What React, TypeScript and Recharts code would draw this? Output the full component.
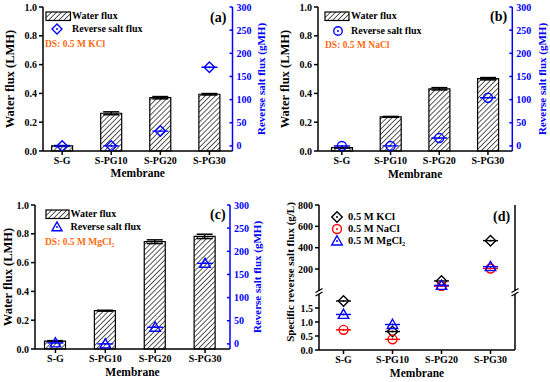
import React from 'react';
import { ComposedChart, Bar, Scatter, XAxis, YAxis, ErrorBar, Legend } from 'recharts';

const FONT = '"Liberation Serif", "Times New Roman", serif';
const BLUE = '#0000ff';
const RED = '#ff0000';
const ORANGE = '#ff6a13';

const membranes = ['S-G', 'S-PG10', 'S-PG20', 'S-PG30'];
const membraneX = [1, 2, 3, 4];

// (a) DS: 0.5 M KCl
const kclWaterFlux = [0.035, 0.262, 0.37, 0.394];
const kclWaterErr = [0.003, 0.01, 0.008, 0.005];
const kclSaltFlux = [0, 0, 32, 170];

// (b) DS: 0.5 M NaCl
const naclWaterFlux = [0.023, 0.237, 0.432, 0.502];
const naclWaterErr = [0.003, 0.003, 0.008, 0.008];
const naclSaltFlux = [0, 0, 17, 104];

// (c) DS: 0.5 M MgCl2
const mgcl2WaterFlux = [0.055, 0.266, 0.745, 0.782];
const mgcl2WaterErr = [0.003, 0.003, 0.013, 0.015];
const mgcl2SaltFlux = [2, 0, 36, 174];

// (d) specific reverse salt flux (g/L)
const kclSpecific = [1.75, 0.66, 88, 466];
const naclSpecific = [0.72, 0.38, 40, 205];
const mgcl2Specific = [1.27, 0.91, 46, 222];

const waterTicks = [0, 0.2, 0.4, 0.6, 0.8, 1.0];
const saltTicks = [0, 50, 100, 150, 200, 250, 300];
const specificHighTicks = [200, 400, 600, 800];
const specificLowTicks = [0, 0.5, 1.0, 1.5];

type MarkerKind = 'diamond' | 'circle' | 'triangle';

const tickStyle = { fontFamily: FONT, fontSize: 10, fontWeight: 700, fill: '#000' };
const blueTickStyle = { ...tickStyle, fill: BLUE };
const blackLine = { stroke: '#000', strokeWidth: 1.5 };
const blueLine = { stroke: BLUE, strokeWidth: 1.5 };

const titleStyle = (size: number, color = '#000') => ({
  fontFamily: FONT,
  fontSize: size,
  fontWeight: 700,
  fill: color,
  textAnchor: 'middle' as const,
});

const membraneLabel = (v: number) => membranes[Math.round(v) - 1] ?? '';

function markerBody(kind: MarkerKind, cx: number, cy: number, size: number, color: string) {
  const h = size / 2;
  if (kind === 'diamond') {
    return (
      <polygon
        points={`${cx},${cy - h} ${cx + h},${cy} ${cx},${cy + h} ${cx - h},${cy}`}
        fill="none"
        stroke={color}
        strokeWidth={1.4}
      />
    );
  }
  if (kind === 'circle') {
    return <circle cx={cx} cy={cy} r={h * 0.85} fill="none" stroke={color} strokeWidth={1.4} />;
  }
  return (
    <polygon
      points={`${cx},${cy - h} ${cx + h},${cy + h * 0.75} ${cx - h},${cy + h * 0.75}`}
      fill="none"
      stroke={color}
      strokeWidth={1.4}
    />
  );
}

function makeShape(kind: MarkerKind, color: string, size: number, cap: number) {
  return (props: any) => {
    const { cx, cy } = props;
    if (cx == null || cy == null) return <g />;
    return (
      <g>
        <line x1={cx - cap} x2={cx + cap} y1={cy} y2={cy} stroke={color} strokeWidth={1.4} />
        {markerBody(kind, cx, cy, size, color)}
        <circle cx={cx} cy={cy} r={1} fill={color} />
      </g>
    );
  };
}

function Glyph({ kind, color, x, y, size }: { kind: MarkerKind; color: string; x: number; y: number; size: number }) {
  return (
    <svg width={20} height={16} style={{ position: 'absolute', left: x - 10, top: y - 8, overflow: 'visible' }}>
      {markerBody(kind, 10, 8, size, color)}
      <circle cx={10} cy={8} r={1} fill={color} />
    </svg>
  );
}

function Label({ x, cy, size, color = '#000', children }: { x: number; cy: number; size: number; color?: string; children: React.ReactNode }) {
  return (
    <div
      style={{
        position: 'absolute',
        left: x,
        top: cy,
        transform: 'translateY(-50%)',
        fontFamily: FONT,
        fontWeight: 700,
        fontSize: size,
        lineHeight: 1,
        color,
        whiteSpace: 'nowrap',
      }}
    >
      {children}
    </div>
  );
}

interface FluxNotesProps {
  patternId: string;
  swatch: { x: number; y: number; w: number; h: number };
  textX: number;
  row1: number;
  marker: { kind: MarkerKind; x: number; y: number };
  tag: string;
  tagX: number;
  tagY: number;
  ds: React.ReactNode;
  dsX: number;
  dsY: number;
}

function FluxNotes(n: FluxNotesProps) {
  const lg = `${n.patternId}-lg`;
  return (
    <div style={{ position: 'relative', width: 275, height: 192 }}>
      <svg
        width={n.swatch.w}
        height={n.swatch.h}
        style={{ position: 'absolute', left: n.swatch.x, top: n.swatch.y, overflow: 'visible' }}
      >
        <defs>
          <pattern id={lg} patternUnits="userSpaceOnUse" width={3.6} height={3.6} patternTransform="rotate(45)">
            <rect width={3.6} height={3.6} fill="#fff" />
            <line x1={0} y1={0} x2={0} y2={3.6} stroke="#000" strokeWidth={1.3} />
          </pattern>
        </defs>
        <rect x={0} y={0} width={n.swatch.w} height={n.swatch.h} fill={`url(#${lg})`} stroke="#000" strokeWidth={1.2} />
      </svg>
      <Label x={n.textX} cy={n.row1} size={10}>Water flux</Label>
      <Glyph kind={n.marker.kind} color={BLUE} x={n.marker.x} y={n.marker.y} size={10} />
      <Label x={n.textX} cy={n.marker.y} size={10}>Reverse salt flux</Label>
      <Label x={n.tagX} cy={n.tagY} size={14}>{n.tag}</Label>
      <Label x={n.dsX} cy={n.dsY} size={9.5} color={ORANGE}>{n.ds}</Label>
    </div>
  );
}

interface FluxPanelProps {
  left: number;
  top: number;
  width: number;
  height: number;
  plotTop: number;
  leftW: number;
  rightW: number;
  bottomH: number;
  xDomain: [number, number];
  leftTitle: number;
  rightTitle: number;
  xTitle: number;
  water: number[];
  waterErr: number[];
  salt: number[];
  marker: MarkerKind;
  patternId: string;
  notes: Omit<FluxNotesProps, 'patternId'>;
}

function FluxPanel(p: FluxPanelProps) {
  const rows = membraneX.map((x, i) => ({ x, water: p.water[i], err: p.waterErr[i], salt: p.salt[i] }));
  return (
    <div style={{ position: 'absolute', left: p.left, top: p.top }}>
      <ComposedChart width={p.width} height={p.height} data={rows} margin={{ top: p.plotTop, right: 0, bottom: 0, left: 0 }}>
        <defs>
          <pattern id={p.patternId} patternUnits="userSpaceOnUse" width={3.6} height={3.6} patternTransform="rotate(45)">
            <rect width={3.6} height={3.6} fill="#fff" />
            <line x1={0} y1={0} x2={0} y2={3.6} stroke="#000" strokeWidth={1.3} />
          </pattern>
        </defs>
        <XAxis
          type="number"
          dataKey="x"
          domain={p.xDomain}
          ticks={membraneX}
          interval={0}
          tickFormatter={membraneLabel}
          allowDataOverflow
          height={p.bottomH}
          tick={tickStyle}
          tickSize={4}
          axisLine={blackLine}
          tickLine={blackLine}
          label={{ value: 'Membrane', position: 'insideBottom', offset: p.xTitle, style: titleStyle(11.5) }}
        />
        <XAxis
          xAxisId="top"
          orientation="top"
          type="number"
          dataKey="x"
          domain={p.xDomain}
          allowDataOverflow
          height={0}
          tick={false}
          tickLine={false}
          axisLine={blackLine}
        />
        <YAxis
          yAxisId="left"
          domain={[0, 1]}
          ticks={waterTicks}
          interval={0}
          tickFormatter={(v: number) => v.toFixed(1)}
          width={p.leftW}
          tick={tickStyle}
          tickSize={4}
          axisLine={blackLine}
          tickLine={blackLine}
          label={{ value: 'Water flux (LMH)', angle: -90, position: 'insideLeft', offset: p.leftTitle, style: titleStyle(12.5) }}
        />
        <YAxis
          yAxisId="right"
          orientation="right"
          domain={[-11, 300]}
          ticks={saltTicks}
          interval={0}
          allowDataOverflow
          width={p.rightW}
          tick={blueTickStyle}
          tickSize={-3}
          tickMargin={7}
          axisLine={blueLine}
          tickLine={blueLine}
          label={{ value: 'Reverse salt flux (gMH)', angle: -90, position: 'insideRight', offset: p.rightTitle, style: titleStyle(11, BLUE) }}
        />
        <Bar
          yAxisId="left"
          dataKey="water"
          barSize={21}
          fill={`url(#${p.patternId})`}
          stroke="#000"
          strokeWidth={1.2}
          isAnimationActive={false}
        >
          <ErrorBar dataKey="err" width={8} stroke="#000" strokeWidth={1.5} direction="y" />
        </Bar>
        <Scatter yAxisId="right" dataKey="salt" shape={makeShape(p.marker, BLUE, 10.5, 8)} isAnimationActive={false} />
        <Legend
          layout="horizontal"
          verticalAlign="middle"
          align="center"
          wrapperStyle={{ left: 0, top: 0, width: p.width, height: p.height, pointerEvents: 'none' }}
          content={() => <FluxNotes patternId={p.patternId} {...p.notes} />}
        />
      </ComposedChart>
    </div>
  );
}

function SpecificPanel() {
  const xDomain: [number, number] = [0.5, 4.5];
  const pick = (vals: number[], high: boolean) =>
    membraneX.map((x, i) => ({ x, v: vals[i] })).filter((r) => (high ? r.v > 2 : r.v <= 2));
  const series = [
    { name: '0.5 M KCl', vals: kclSpecific, kind: 'diamond' as MarkerKind, color: '#000' },
    { name: '0.5 M NaCl', vals: naclSpecific, kind: 'circle' as MarkerKind, color: RED },
    { name: '0.5 M MgCl\u2082', vals: mgcl2Specific, kind: 'triangle' as MarkerKind, color: BLUE },
  ];
  const legendRows = [26.7, 38.5, 50.7];
  return (
    <>
      <div style={{ position: 'absolute', left: 275, top: 190 }}>
        <ComposedChart width={275} height={192} margin={{ top: 104, right: 0, bottom: 0, left: 0 }}>
          <XAxis
            type="number"
            dataKey="x"
            domain={xDomain}
            ticks={membraneX}
            interval={0}
            tickFormatter={membraneLabel}
            allowDataOverflow
            height={32}
            tick={tickStyle}
            tickSize={4}
            axisLine={blackLine}
            tickLine={blackLine}
            label={{ value: 'Membrane', position: 'insideBottom', offset: 5, style: titleStyle(11.5) }}
          />
          <YAxis
            yAxisId="low"
            domain={[0, 2]}
            ticks={specificLowTicks}
            interval={0}
            tickFormatter={(v: number) => v.toFixed(1)}
            width={44}
            tick={tickStyle}
            tickSize={4}
            axisLine={blackLine}
            tickLine={blackLine}
            label={{
              value: 'Specific reverse salt flux (g/L)',
              angle: -90,
              position: 'insideLeft',
              offset: 15,
              dy: -50,
              style: titleStyle(11),
            }}
          />
          <YAxis yAxisId="frame" orientation="right" domain={[0, 1]} width={35} tick={false} tickLine={false} axisLine={blackLine} />
          {series.map((s) => (
            <Scatter
              key={s.name}
              yAxisId="low"
              data={pick(s.vals, false)}
              dataKey="v"
              shape={makeShape(s.kind, s.color, 10.5, 7.5)}
              isAnimationActive={false}
            />
          ))}
        </ComposedChart>
      </div>
      <div style={{ position: 'absolute', left: 275, top: 190 }}>
        <ComposedChart width={275} height={101} margin={{ top: 15, right: 0, bottom: 0, left: 0 }}>
          <XAxis type="number" dataKey="x" domain={xDomain} allowDataOverflow hide />
          <XAxis
            xAxisId="top"
            orientation="top"
            type="number"
            dataKey="x"
            domain={xDomain}
            allowDataOverflow
            height={0}
            tick={false}
            tickLine={false}
            axisLine={blackLine}
          />
          <YAxis
            yAxisId="high"
            domain={[-6, 800]}
            ticks={specificHighTicks}
            interval={0}
            allowDataOverflow
            width={44}
            tick={tickStyle}
            tickSize={4}
            axisLine={blackLine}
            tickLine={blackLine}
          />
          <YAxis yAxisId="frame" orientation="right" domain={[0, 1]} width={35} tick={false} tickLine={false} axisLine={blackLine} />
          {series.map((s) => (
            <Scatter
              key={s.name}
              yAxisId="high"
              data={pick(s.vals, true)}
              dataKey="v"
              shape={makeShape(s.kind, s.color, 10.5, 7.5)}
              isAnimationActive={false}
            />
          ))}
          <Legend
            layout="horizontal"
            verticalAlign="middle"
            align="center"
            wrapperStyle={{ left: 0, top: 0, width: 275, height: 101, pointerEvents: 'none' }}
            content={() => (
              <div style={{ position: 'relative', width: 275, height: 101 }}>
                {series.map((s, i) => (
                  <React.Fragment key={s.name}>
                    <Glyph kind={s.kind} color={s.color} x={62} y={legendRows[i]} size={10.5} />
                    <Label x={73} cy={legendRows[i]} size={10.5}>{s.name}</Label>
                  </React.Fragment>
                ))}
                <Label x={218} cy={26.7} size={14}>(d)</Label>
              </div>
            )}
          />
        </ComposedChart>
      </div>
      <svg width={550} height={382} style={{ position: 'absolute', left: 0, top: 0, pointerEvents: 'none' }}>
        {[319, 515].map((x) => (
          <g key={x} stroke="#000" strokeWidth={1.2}>
            <line x1={x - 3.5} y1={292.5} x2={x + 3.5} y2={288.5} />
            <line x1={x - 3.5} y1={296} x2={x + 3.5} y2={292} />
          </g>
        ))}
      </svg>
    </>
  );
}

export default function App() {
  return (
    <div style={{ position: 'absolute', left: 0, top: 0, width: 550, height: 382, background: '#fff', overflow: 'hidden' }}>
      <FluxPanel
        left={0}
        top={0}
        width={275}
        height={190}
        plotTop={7}
        leftW={43}
        rightW={42.5}
        bottomH={39}
        xDomain={[0.61, 4.47]}
        leftTitle={9.5}
        rightTitle={14}
        xTitle={13}
        water={kclWaterFlux}
        waterErr={kclWaterErr}
        salt={kclSaltFlux}
        marker="diamond"
        patternId="hatch-a"
        notes={{
          swatch: { x: 45.5, y: 11.5, w: 24.5, h: 8.5 },
          textX: 72,
          row1: 15.5,
          marker: { kind: 'diamond', x: 57, y: 29 },
          tag: '(a)',
          tagX: 210,
          tagY: 18,
          ds: 'DS: 0.5 M KCl',
          dsX: 45,
          dsY: 45,
        }}
      />
      <FluxPanel
        left={275}
        top={0}
        width={275}
        height={190}
        plotTop={7}
        leftW={43}
        rightW={37.7}
        bottomH={39}
        xDomain={[0.51, 4.5]}
        leftTitle={10}
        rightTitle={8}
        xTitle={12}
        water={naclWaterFlux}
        waterErr={naclWaterErr}
        salt={naclSaltFlux}
        marker="circle"
        patternId="hatch-b"
        notes={{
          swatch: { x: 50, y: 12, w: 24, h: 8.5 },
          textX: 76,
          row1: 16,
          marker: { kind: 'circle', x: 63, y: 30.5 },
          tag: '(b)',
          tagX: 215,
          tagY: 17.3,
          ds: 'DS: 0.5 M NaCl',
          dsX: 50,
          dsY: 45.7,
        }}
      />
      <FluxPanel
        left={0}
        top={190}
        width={275}
        height={192}
        plotTop={15}
        leftW={35}
        rightW={45}
        bottomH={33}
        xDomain={[0.59, 4.5]}
        leftTitle={7.3}
        rightTitle={18}
        xTitle={6.5}
        water={mgcl2WaterFlux}
        waterErr={mgcl2WaterErr}
        salt={mgcl2SaltFlux}
        marker="triangle"
        patternId="hatch-c"
        notes={{
          swatch: { x: 45.5, y: 20, w: 23, h: 8.5 },
          textX: 70.5,
          row1: 24,
          marker: { kind: 'triangle', x: 57.3, y: 36.7 },
          tag: '(c)',
          tagX: 210,
          tagY: 25,
          ds: 'DS: 0.5 M MgCl\u2082',
          dsX: 45,
          dsY: 52.7,
        }}
      />
      <SpecificPanel />
    </div>
  );
}
